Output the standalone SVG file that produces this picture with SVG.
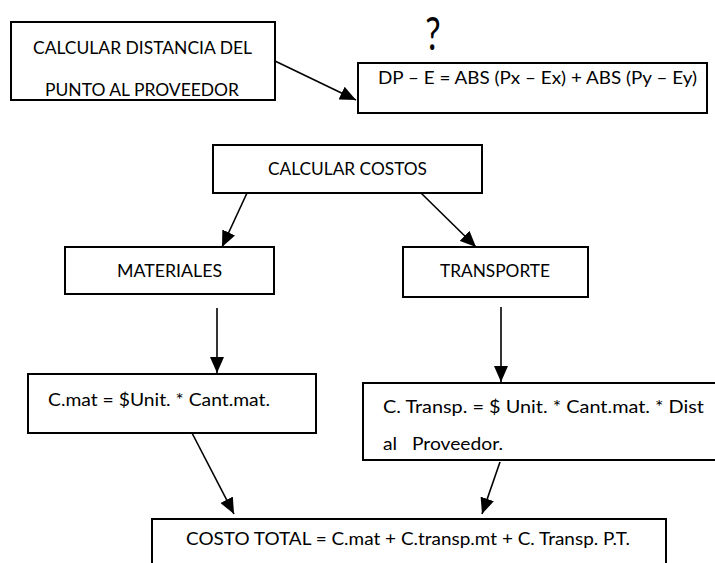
<svg xmlns="http://www.w3.org/2000/svg" width="715" height="563" viewBox="0 0 715 563">
<defs>
<style>
.box{fill:#fff;stroke:#000;stroke-width:2}
.t{font-family:Lato,"Liberation Sans",Arial,sans-serif;font-size:18px;fill:#000}
.c{stroke:#000;stroke-width:1.6;fill:none;marker-end:url(#ah)}
</style>
<marker id="ah" markerUnits="userSpaceOnUse" markerWidth="16" markerHeight="14" viewBox="0 0 16 14" refX="16" refY="7" orient="auto">
<path d="M0,0 L16,7 L0,14 Z" fill="#000"/>
</marker>
<clipPath id="clip1"><rect x="12" y="23" width="262" height="75"/></clipPath>
</defs>
<rect width="715" height="563" fill="#fff"/>
<g id="connectors">
<line class="c" x1="275" y1="61" x2="356" y2="100"/>
<line class="c" x1="247" y1="193" x2="222" y2="247"/>
<line class="c" x1="421" y1="193" x2="476" y2="247"/>
<line class="c" x1="217" y1="308" x2="217" y2="373"/>
<line class="c" x1="501" y1="307" x2="501" y2="382"/>
<line class="c" x1="192" y1="433" x2="234" y2="514"/>
<line class="c" x1="500" y1="462" x2="482" y2="514"/>
</g>
<g id="n-distancia">
<rect class="box" x="11" y="22" width="264" height="78"/>
<text class="t" x="33" y="54" textLength="219" lengthAdjust="spacingAndGlyphs">CALCULAR DISTANCIA DEL</text>
<text class="t" x="45" y="96" textLength="194" lengthAdjust="spacingAndGlyphs" clip-path="url(#clip1)">PUNTO AL PROVEEDOR</text>
</g>
<g id="n-question">
<text class="t" transform="translate(433,50) scale(0.75,1)" text-anchor="middle" style="font-size:46px">?</text>
</g>
<g id="n-formula">
<rect class="box" x="358" y="63" width="349" height="50"/>
<text class="t" x="378" y="84" textLength="319" lengthAdjust="spacingAndGlyphs">DP – E = ABS (Px – Ex) + ABS (Py – Ey)</text>
</g>
<g id="n-costos">
<rect class="box" x="213" y="145" width="269" height="48"/>
<text class="t" x="268" y="175" textLength="159" lengthAdjust="spacingAndGlyphs">CALCULAR COSTOS</text>
</g>
<g id="n-materiales">
<rect class="box" x="65" y="247" width="209" height="47"/>
<text class="t" x="117" y="277" textLength="105" lengthAdjust="spacingAndGlyphs">MATERIALES</text>
</g>
<g id="n-transporte">
<rect class="box" x="403" y="247" width="185" height="50"/>
<text class="t" x="440" y="277" textLength="110" lengthAdjust="spacingAndGlyphs">TRANSPORTE</text>
</g>
<g id="n-cmat">
<rect class="box" x="28" y="374" width="288" height="59"/>
<text class="t" x="48" y="406" textLength="222" lengthAdjust="spacingAndGlyphs">C.mat = $Unit. * Cant.mat.</text>
</g>
<g id="n-ctransp">
<rect class="box" x="363" y="383" width="360" height="77"/>
<text class="t" x="383" y="413" textLength="321" lengthAdjust="spacingAndGlyphs">C. Transp. = $ Unit. * Cant.mat. * Dist</text>
<text class="t" x="383" y="450" textLength="120" lengthAdjust="spacingAndGlyphs" xml:space="preserve">al   Proveedor.</text>
</g>
<g id="n-total">
<rect class="box" x="152" y="519" width="514" height="60"/>
<text class="t" x="186" y="545" textLength="444" lengthAdjust="spacingAndGlyphs">COSTO TOTAL = C.mat + C.transp.mt + C. Transp. P.T.</text>
</g>
</svg>
